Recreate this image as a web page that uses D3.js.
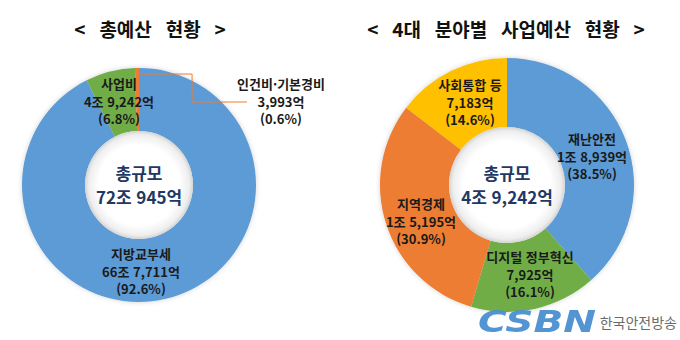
<!DOCTYPE html>
<html lang="ko">
<head>
<meta charset="utf-8">
<script src="https://cdn.jsdelivr.net/npm/d3@7"></script>
<style>
  html, body { margin: 0; padding: 0; background: #fff; }
  svg { display: block; font-family: "Noto Sans CJK KR", "Noto Sans", sans-serif; }
</style>
</head>
<body>
<svg id="chart" width="680" height="340"></svg>
<script>
// 총예산 구성 (단위: 억원)
const totalCategories = ["지방교부세", "사업비", "인건비·기본경비"];
const totalValues = [667711, 49242, 3993];
const totalAmountText = ["66조 7,711억", "4조 9,242억", "3,993억"];
const totalPctText = ["(92.6%)", "(6.8%)", "(0.6%)"];

// 4대 분야별 사업예산 (단위: 억원)
const fieldCategories = ["재난안전", "디지털 정부혁신", "지역경제", "사회통합 등"];
const fieldValues = [18939, 7925, 15195, 7183];
const fieldAmountText = ["1조 8,939억", "7,925억", "1조 5,195억", "7,183억"];
const fieldPctText = ["(38.5%)", "(16.1%)", "(30.9%)", "(14.6%)"];

const titles = ["< 총예산 현황 >", "< 4대 분야별 사업예산 현황 >"];
const centerLabels = [["총규모", "72조 945억"], ["총규모", "4조 9,242억"]];

const svg = d3.select("#chart");
const defs = svg.append("defs");

// soft outer shadow of the ring
const sh = defs.append("filter").attr("id", "ringShadow")
  .attr("x", "-10%").attr("y", "-10%").attr("width", "120%").attr("height", "120%");
sh.append("feDropShadow").attr("dx", 0).attr("dy", 0)
  .attr("stdDeviation", 2.5).attr("flood-color", "#000").attr("flood-opacity", 0.18);

// inner hole shading
const hg = defs.append("radialGradient").attr("id", "holeGrad");
hg.append("stop").attr("offset", "0.75").attr("stop-color", "#ffffff");
hg.append("stop").attr("offset", "0.93").attr("stop-color", "#eeeeee");
hg.append("stop").attr("offset", "1").attr("stop-color", "#d4d4d4");

const charts = [
  {
    cx: 139, cy: 185, outer: 117, inner: 54,
    categories: totalCategories, values: totalValues,
    amount: totalAmountText, pct: totalPctText,
    colors: ["#5B9BD5", "#70AD47", "#ED7D31"],
    // label block centres, relative to the ring centre
    labelPos: [[2, 87], [-20, -83], [142, -83]],
    titleX: 150, center: centerLabels[0], title: titles[0],
    leader: 2
  },
  {
    cx: 507, cy: 185, outer: 127, inner: 58,
    categories: fieldCategories, values: fieldValues,
    amount: fieldAmountText, pct: fieldPctText,
    colors: ["#5B9BD5", "#70AD47", "#ED7D31", "#FFC000"],
    labelPos: [[85, -28], [23, 90], [-86, 37], [-37, -82]],
    titleX: 506, center: centerLabels[1], title: titles[1],
    leader: -1
  }
];

charts.forEach(c => {
  const pie = d3.pie().sort(null).value(d => d.value).startAngle(0).endAngle(2 * Math.PI);
  const data = c.values.map((v, i) => ({
    value: v, name: c.categories[i], amount: c.amount[i], pct: c.pct[i], color: c.colors[i]
  }));
  const arcs = pie(data);
  const arc = d3.arc().innerRadius(c.inner).outerRadius(c.outer);

  // title
  svg.append("text")
    .attr("x", c.titleX).attr("y", 37)
    .attr("text-anchor", "middle")
    .attr("font-size", 19).attr("font-weight", 700)
    .attr("word-spacing", 8.5)
    .attr("fill", "#111")
    .text(c.title);

  const g = svg.append("g").attr("transform", `translate(${c.cx},${c.cy})`);

  g.append("g").attr("filter", "url(#ringShadow)")
    .selectAll("path").data(arcs).join("path")
    .attr("d", arc)
    .attr("fill", d => d.data.color);

  // centre hole
  g.append("circle").attr("r", c.inner).attr("fill", "url(#holeGrad)");

  // centre total
  g.append("text").attr("y", -5).attr("text-anchor", "middle")
    .attr("font-size", 17).attr("font-weight", 700).attr("fill", "#1F3864")
    .text(c.center[0]);
  g.append("text").attr("y", 19).attr("text-anchor", "middle")
    .attr("font-size", 17).attr("font-weight", 700).attr("fill", "#1F3864")
    .text(c.center[1]);

  // leader line for the thin slice
  if (c.leader >= 0) {
    const a = arcs[c.leader];
    const mid = (a.startAngle + a.endAngle) / 2;
    const r0 = c.outer - 6;
    const sx = r0 * Math.sin(mid), sy = -r0 * Math.cos(mid);
    const [lx, ly] = c.labelPos[c.leader];
    const pts = [[sx, sy], [sx + 55, sy], [sx + 55, ly], [lx - 34, ly]];
    g.append("path")
      .attr("d", d3.line()(pts))
      .attr("fill", "none").attr("stroke", "#ED7D31").attr("stroke-width", 1);
  }

  // slice labels
  const lab = g.selectAll("g.lab").data(arcs).join("g").attr("class", "lab")
    .attr("transform", (d, i) => `translate(${c.labelPos[i][0]},${c.labelPos[i][1]})`);
  lab.each(function (d) {
    const t = d3.select(this);
    [d.data.name, d.data.amount, d.data.pct].forEach((s, k) => {
      t.append("text")
        .attr("y", (k - 1) * 17.5 + 4.5)
        .attr("text-anchor", "middle")
        .attr("font-size", 13).attr("font-weight", 700)
        .attr("fill", "#1a1a1a")
        .text(s);
    });
  });
});

// broadcaster mark, bottom right
const wm = svg.append("g");
wm.append("text")
  .attr("x", 478).attr("y", 332)
  .attr("font-family", "'DejaVu Sans', sans-serif")
  .attr("font-size", 31).attr("font-weight", 900).attr("font-style", "italic")
  .attr("textLength", 118).attr("lengthAdjust", "spacingAndGlyphs")
  .attr("fill", "#4A90D0").attr("opacity", 0.95)
  .text("CSBN");
wm.append("text")
  .attr("x", 677).attr("y", 328)
  .attr("text-anchor", "end")
  .attr("font-size", 14).attr("font-weight", 400)
  .attr("fill", "#6b6b6b")
  .text("한국안전방송");
</script>
</body>
</html>
